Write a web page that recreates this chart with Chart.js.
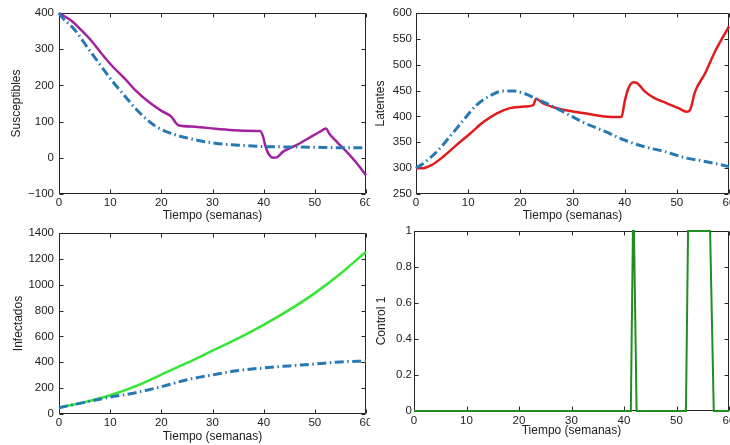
<!DOCTYPE html>
<html>
<head>
<meta charset="utf-8">
<script src="https://cdn.jsdelivr.net/npm/chart.js@4.4.1/dist/chart.umd.min.js"></script>
<style>
  html, body { margin: 0; padding: 0; background: #fff; }
  body { width: 730px; height: 445px; position: relative; overflow: hidden; }
  canvas { position: absolute; }
</style>
</head>
<body>
<canvas id="c1" width="370" height="222" style="left:0;top:0"></canvas>
<canvas id="c2" width="365" height="222" style="left:365px;top:0"></canvas>
<canvas id="c3" width="370" height="223" style="left:0;top:222px"></canvas>
<canvas id="c4" width="365" height="223" style="left:365px;top:222px"></canvas>
<script>
// ---------- data ----------
const xTicks = [0, 10, 20, 30, 40, 50, 60];

// Susceptibles (with control, solid magenta)
const tSusCtrl = [0, 2.5, 4.4, 6.4, 8.3, 10.3, 12.9, 14.9, 17.5, 20.1, 22, 22.8, 23.3, 26.6, 30.5, 33.4, 36, 39.3, 39.9, 40.3, 40.9, 41.9, 42.5, 43.8, 46.4, 49, 51, 52.2, 52.8, 54.3, 56.2, 58.2, 60];
const susCtrl  = [400, 378, 352, 322, 288, 255, 218, 187, 155, 129, 113, 97, 90, 86, 80, 77, 75, 74, 58, 35, 12, 0, 1, 17, 35, 56, 72, 81, 67, 44, 17, -15, -48];
// Susceptibles (without control, dash-dot blue)
const tSusFree = [0, 0.5, 3.1, 5.7, 8.3, 10.3, 12.9, 15.5, 18.8, 22, 25.3, 30.5, 35, 40, 45, 50, 55, 60];
const susFree  = [400, 390, 353, 302, 252, 214, 170, 128, 88, 67, 54, 40, 35, 31, 30, 29, 28, 28];

// Latentes
const tLatCtrl = [0, 1.4, 3, 5.2, 7.8, 10.4, 12.9, 15.5, 18, 20.6, 22.5, 23, 24.4, 27, 29.2, 32.4, 36.2, 39.4, 40, 40.7, 41.7, 42.3, 43.9, 45.8, 47.7, 50.3, 51.9, 52.5, 53.5, 55.4, 57.3, 60];
const latCtrl  = [300, 300, 306, 322, 345, 367, 389, 406, 416, 419, 422, 434, 425, 416, 411, 406, 400, 399, 429, 454, 466, 465, 448, 435, 427, 416, 409, 412, 448, 483, 525, 574];
const tLatFree = [0, 1.4, 4, 6.5, 9.1, 11.6, 14.2, 16.7, 18.7, 20.6, 23.1, 25.7, 28.2, 32.4, 36.2, 40, 43.9, 47.7, 51.6, 55.4, 60];
const latFree  = [300, 309, 332, 361, 393, 422, 440, 449, 449, 445, 434, 422, 409, 387, 371, 354, 341, 332, 320, 313, 303];

// Infectados
const tInf    = [0, 5, 10, 15, 20, 25, 30, 35, 40, 45, 50, 55, 60];
const infCtrl = [49, 92, 145, 215, 305, 395, 490, 585, 690, 805, 935, 1085, 1255];
const infFree = [49, 90, 130, 165, 211, 265, 302, 336, 356, 372, 387, 403, 410];

// Control 1
const tCtrl = [0, 41.3, 41.7, 41.9, 42.4, 51.8, 52.2, 56.4, 57.1, 60];
const ctrl1 = [0, 0, 1, 1, 0, 0, 1, 1, 0, 0];

// ---------- helpers ----------
const FONT = "'Liberation Sans', Arial, Helvetica, sans-serif";
const pts = (xs, ys) => xs.map((x, i) => ({ x, y: ys[i] }));
const fmt = v => String(+(+v).toFixed(2)).replace('-', '\u2212');

const frame = {
  id: 'frame',
  beforeDatasetsDraw(chart) {
    const { ctx, chartArea: a, scales: { x, y } } = chart;
    ctx.save();
    ctx.strokeStyle = '#262626';
    ctx.lineWidth = 1;
    ctx.beginPath();
    const L = Math.round(a.left) + 0.5, R = Math.round(a.right) - 0.5;
    const T = Math.round(a.top) + 0.5, B = Math.round(a.bottom) - 0.5;
    ctx.rect(L, T, R - L, B - T);
    x.ticks.forEach((t, i) => {
      const p = Math.round(x.getPixelForTick(i)) + 0.5;
      ctx.moveTo(p, B); ctx.lineTo(p, B - 4);
      ctx.moveTo(p, T); ctx.lineTo(p, T + 4);
    });
    y.ticks.forEach((t, i) => {
      const p = Math.round(y.getPixelForTick(i)) + 0.5;
      ctx.moveTo(L, p); ctx.lineTo(L + 4, p);
      ctx.moveTo(R, p); ctx.lineTo(R - 4, p);
    });
    ctx.stroke();
    ctx.restore();
  }
};

function makeChart(id, cfg) {
  const datasets = cfg.series.map(s => ({
    data: pts(s.t, s.v),
    borderColor: s.color,
    borderWidth: s.width,
    borderDash: s.dash || [],
    pointRadius: 0,
    fill: false,
    clip: 4,
    tension: 0,
    cubicInterpolationMode: s.step ? 'default' : 'monotone'
  }));
  return new Chart(document.getElementById(id), {
    type: 'line',
    data: { datasets },
    plugins: [frame],
    options: {
      responsive: false,
      animation: false,
      events: [],
      layout: { autoPadding: false, padding: cfg.pad },
      plugins: { legend: { display: false }, tooltip: { enabled: false } },
      scales: {
        x: {
          type: 'linear', min: 0, max: 60,
          afterBuildTicks: s => { s.ticks = xTicks.map(v => ({ value: v })); },
          afterFit: s => { s.paddingLeft = 0; s.paddingRight = 0; },
          grid: { display: false, drawTicks: false },
          border: { display: false },
          ticks: { padding: cfg.xTickPad, color: '#222', font: { family: FONT, size: 11.5, lineHeight: 1.2 }, maxRotation: 0, autoSkip: false, callback: fmt },
          title: { display: true, text: 'Tiempo (semanas)', color: '#222', font: { family: FONT, size: 12, lineHeight: 1.2 }, padding: { top: cfg.xTitleTop, bottom: 0 } }
        },
        y: {
          type: 'linear', min: cfg.yMin, max: cfg.yMax,
          afterBuildTicks: s => { s.ticks = cfg.yTicks.map(v => ({ value: v })); },
          afterFit: s => { s.width = cfg.yW; s.paddingTop = 0; s.paddingBottom = 0; },
          grid: { display: false, drawTicks: false },
          border: { display: false },
          ticks: { padding: cfg.yTickPad, color: '#222', font: { family: FONT, size: 11.5 }, autoSkip: false, callback: fmt },
          title: { display: true, text: cfg.yTitle, color: '#222', font: { family: FONT, size: 12 }, padding: { top: cfg.yTitlePad, bottom: 0 } }
        }
      }
    }
  });
}

const BLUE = '#2779b3';
const DASHDOT = [9, 3.5, 1.5, 3.5];

// x-axis natural height = 14.4 + xTitleTop + 13.8 + 2*xTickPad
makeChart('c1', {
  pad: { left: 0, top: 13, right: 4, bottom: 222 - 194 - 28.7 },
  yW: 59, xTickPad: 2, xTitleTop: -3.5, yTitlePad: 9, yTickPad: 5,
  yMin: -100, yMax: 400, yTicks: [-100, 0, 100, 200, 300, 400],
  yTitle: 'Susceptibles',
  series: [
    { t: tSusFree, v: susFree, color: BLUE, width: 3, dash: DASHDOT },
    { t: tSusCtrl, v: susCtrl, color: '#a3219f', width: 2.5 }
  ]
});

makeChart('c2', {
  pad: { left: 0, top: 13, right: 1, bottom: 222 - 194 - 28.7 },
  yW: 51, xTickPad: 2, xTitleTop: -3.5, yTitlePad: 8, yTickPad: 4,
  yMin: 250, yMax: 600, yTicks: [250, 300, 350, 400, 450, 500, 550, 600],
  yTitle: 'Latentes',
  series: [
    { t: tLatFree, v: latFree, color: BLUE, width: 3, dash: DASHDOT },
    { t: tLatCtrl, v: latCtrl, color: '#e31a1c', width: 2.5 }
  ]
});

makeChart('c3', {
  pad: { left: 0, top: 11, right: 4, bottom: 223 - 192 - 30.2 },
  yW: 59, xTickPad: 2, xTitleTop: -2, yTitlePad: 11, yTickPad: 5,
  yMin: 0, yMax: 1400, yTicks: [0, 200, 400, 600, 800, 1000, 1200, 1400],
  yTitle: 'Infectados',
  series: [
    { t: tInf, v: infFree, color: BLUE, width: 3, dash: DASHDOT },
    { t: tInf, v: infCtrl, color: '#35e635', width: 2.5 }
  ]
});

makeChart('c4', {
  pad: { left: 0, top: 9, right: 1, bottom: 223 - 189 - 27.2 },
  yW: 49, xTickPad: 2.5, xTitleTop: -6, yTitlePad: 9, yTickPad: 2,
  yMin: 0, yMax: 1, yTicks: [0, 0.2, 0.4, 0.6, 0.8, 1],
  yTitle: 'Control 1',
  series: [
    { t: tCtrl, v: ctrl1, color: '#1f8f1f', width: 2, step: true }
  ]
});
</script>
</body>
</html>
